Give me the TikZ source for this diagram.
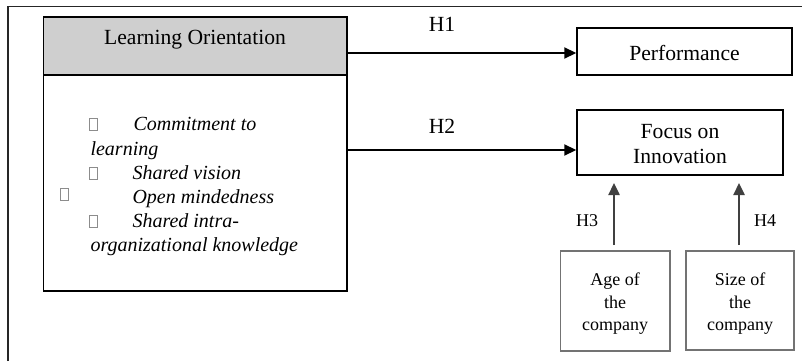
\documentclass[tikz,border=0pt]{standalone}
\usepackage{fontspec}
\setmainfont{Liberation Serif}
\usetikzlibrary{arrows.meta,calc}
\begin{document}
\begin{tikzpicture}[x=1pt,y=-1pt,
  big/.style={font=\fontsize{21.6}{25}\selectfont},
  mid/.style={font=\fontsize{20}{24}\selectfont\itshape},
  small/.style={font=\fontsize{18}{22.5}\selectfont},
  boxline/.style={draw=black,line width=1.6pt},
  greybox/.style={draw=black!55,line width=1.3pt},
  mainarrow/.style={line width=1.8pt,-{Triangle[length=12pt,width=11pt]}},
  greyarrow/.style={draw=black!75,line width=2.4pt,-{Triangle[length=12pt,width=11pt]}},
  bulletbox/.style={draw=black!45,line width=0.7pt}
]
\useasboundingbox (0,0) rectangle (802,361);
% outer frame (open)
\draw[line width=1.8pt,draw=black!85] (8,361) -- (8,6.5) -- (802,6.5);

% Learning orientation box
\node[boxline,minimum width=303.5pt,minimum height=274pt,inner sep=0pt] (lo) at (195.25,154) {};
\node[boxline,fill=black!19,minimum width=303.5pt,minimum height=58pt,inner sep=0pt,anchor=north] (hdr) at (lo.north) {};
\node[big,anchor=base] (hdrtext) at (195,45) {Learning Orientation};

% list
\node[mid,anchor=base west] (l1) at (130,130) {Commitment to};
\node[mid,anchor=base west] (l2) at (87,155) {learning};
\node[mid,anchor=base west] (l3) at (129,179) {Shared vision};
\node[mid,anchor=base west] (l4) at (129,203) {Open mindedness};
\node[mid,anchor=base west] (l5) at (129,227) {Shared intra-};
\node[mid,anchor=base west] (l6) at (87,251) {organizational knowledge};
\draw[bulletbox] (89.5,118.5) rectangle (97.5,130.5);
\draw[bulletbox] (89.5,167.5) rectangle (97.5,179.5);
\draw[bulletbox] (60.5,188.5) rectangle (68.5,200.5);
\draw[bulletbox] (89.5,215.5) rectangle (97.5,227.5);

% right side boxes
\node[boxline,line width=1.4pt,minimum width=215pt,minimum height=47pt,inner sep=0pt] (perf) at (684.5,51.5) {};
\node[big,anchor=base] (perftext) at (684.5,60) {Performance};
\node[boxline,line width=1.4pt,minimum width=206pt,minimum height=65pt,inner sep=0pt] (focus) at (680,142.5) {};
\node[big,anchor=base] (focus1) at (680,138) {Focus on};
\node[big,anchor=base] (focus2) at (680,163) {Innovation};

\node[greybox,minimum width=109.5pt,minimum height=100pt,inner sep=0pt] (age) at (615.25,301) {};
\node[small,anchor=base] (age1) at (615,285) {Age of};
\node[small,anchor=base] (age2) at (615,308) {the};
\node[small,anchor=base] (age3) at (615,330.5) {company};
\node[greybox,minimum width=108pt,minimum height=99pt,inner sep=0pt] (size) at (740,300.5) {};
\node[small,anchor=base] (size1) at (740,285) {Size of};
\node[small,anchor=base] (size2) at (740,308) {the};
\node[small,anchor=base] (size3) at (740,330.5) {company};

% arrows
\coordinate (h1y) at (0,53);
\coordinate (h2y) at (0,150);
\draw[mainarrow] (lo.east |- h1y) -- (perf.west |- h1y);
\draw[mainarrow] (lo.east |- h2y) -- (focus.west |- h2y);
\coordinate (a3) at (614,245);
\coordinate (a4) at (739,245);
\draw[greyarrow] (a3) -- (a3 |- 0,183);
\draw[greyarrow] (a4) -- (a4 |- 0,183);

% labels
\node[big,anchor=base] (h1) at (442,32) {H1};
\node[big,anchor=base] (h2) at (442,133) {H2};
\node[small,anchor=base] (h3) at (587,226) {H3};
\node[small,anchor=base] (h4) at (765,226) {H4};
\end{tikzpicture}
\end{document}
